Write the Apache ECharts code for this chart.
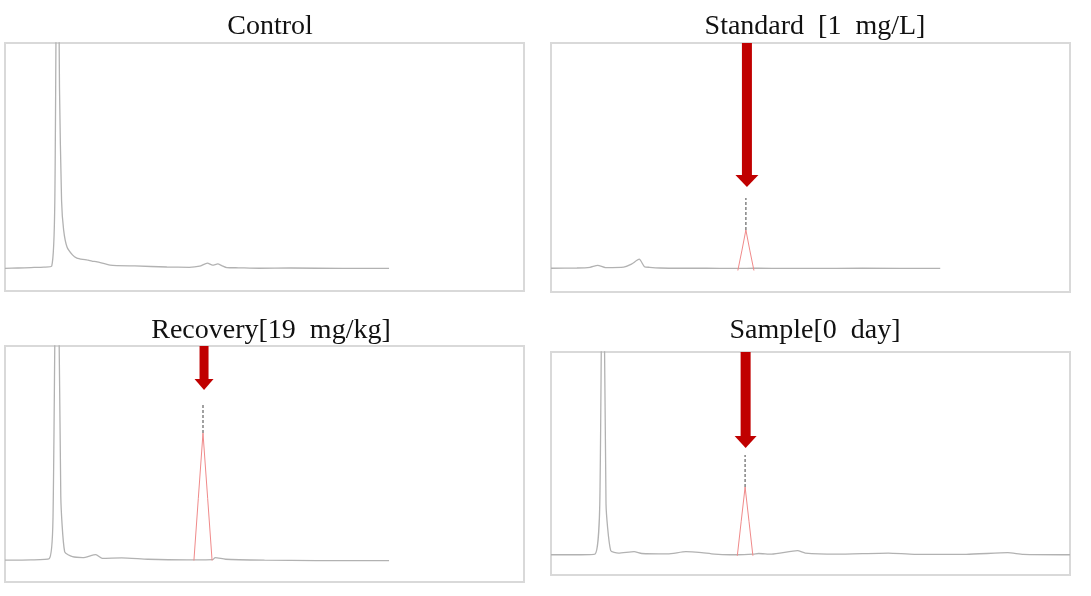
<!DOCTYPE html>
<html>
<head>
<meta charset="utf-8">
<script src="https://cdn.jsdelivr.net/npm/echarts@6/dist/echarts.min.js"></script>
<style>
html,body{margin:0;padding:0;background:#fff;}
#chart{width:1091px;height:596px;}
</style>
</head>
<body>
<div id="chart"></div>
<script>
// ---- Panel titles ----
const panelTitles = ['Control', 'Standard  [1  mg/L]', 'Recovery[19  mg/kg]', 'Sample[0  day]'];

// ---- Control trace (time, response) ----
const controlT = [0, 0.5, 1.0, 1.5, 1.8, 1.92, 2.02, 2.1, 2.18, 2.26, 2.39, 2.6, 2.77, 3.0, 3.16, 3.35, 3.55, 4.05, 5.0, 6.24, 7.1, 7.5, 7.8, 8.0, 8.2, 8.35, 8.55, 9.0, 9.8, 11.0, 13.0, 14.8];
const controlV = [0, 0.2, 0.4, 0.6, 1.0, 30, 200, 80, 30, 17, 9.5, 6, 4.6, 4.0, 3.8, 3.3, 2.9, 1.5, 1.1, 0.65, 0.5, 1.0, 2.4, 1.5, 2.0, 1.3, 0.4, 0.3, 0.1, 0.2, 0, 0];

// ---- Standard trace ----
const standardT = [0, 1.0, 1.5, 1.8, 2.1, 2.8, 3.1, 3.4, 3.6, 3.8, 4.2, 5.0, 6.0, 7.0, 7.2, 7.85, 8.0, 9.0, 10.0, 12.0, 15.0];
const standardV = [0.5, 0.6, 0.9, 1.8, 0.8, 1.0, 2.3, 4.5, 1.2, 0.9, 0.6, 0.5, 0.5, 0.4, 0.4, 0.5, 0.5, 0.4, 0.4, 0.5, 0.4];
const standardPeakT = [7.2, 7.36, 7.51, 7.66, 7.82];
const standardPeakV = [-0.5, 8.5, 17.4, 8.5, -0.5];
const standardTipV = [17.4, 31.5];
const standardArrow = [7.55, 100, 36.4];

// ---- Recovery trace ----
const recoveryT = [0, 1.0, 1.7, 1.85, 2.0, 2.15, 2.3, 2.6, 3.0, 3.5, 3.75, 4.5, 5.5, 7.0, 7.25, 8.0, 8.1, 8.5, 10.0, 12.0, 14.8];
const recoveryV = [0.2, 0.3, 0.8, 20, 200, 30, 4, 1.8, 1.4, 2.8, 1.0, 1.2, 0.6, 0.3, 0.3, 0.4, 1.4, 0.6, 0.2, 0, 0];
const recoveryPeakT = [7.28, 7.45, 7.63, 7.81, 7.98];
const recoveryPeakV = [0, 29, 59.4, 29, 0];
const recoveryTipV = [59.4, 73.4];
const recoveryArrow = [7.67, 100, 79.5];

// ---- Sample trace ----
const sampleT = [0, 1.0, 1.7, 1.88, 2.0, 2.12, 2.3, 2.6, 3.2, 3.5, 4.5, 5.2, 5.7, 6.3, 6.9, 7.18, 7.8, 8.0, 8.5, 9.5, 9.8, 11.0, 13.0, 14.0, 16.0, 17.6, 18.2, 20.0];
const sampleV = [0, 0, 0.4, 25, 200, 25, 2, 0.8, 1.5, 0.6, 0.4, 1.5, 1.2, 0.3, 0, 0, 0.3, 0.6, 0.3, 2.0, 0.8, 0.3, 0.8, 0.2, 0.2, 1.0, 0.2, 0];
const samplePeakT = [7.18, 7.33, 7.48, 7.63, 7.78];
const samplePeakV = [-0.5, 16.5, 33.4, 16.5, -0.5];
const sampleTipV = [33.4, 49.2];
const sampleArrow = [7.5, 100, 52.6];

const zip = (a, b) => a.map((x, i) => [x, b[i]]);

const grids = [
  {left: 5, top: 43, width: 519, height: 248},
  {left: 551, top: 43, width: 519, height: 249},
  {left: 5, top: 346, width: 519, height: 236},
  {left: 551, top: 352, width: 519, height: 223}
];
const titlePos = [[265, 8], [810, 8], [266, 312], [810, 312]];

const panels = [
  {trace: zip(controlT, controlV)},
  {trace: zip(standardT, standardV), peak: zip(standardPeakT, standardPeakV), tipT: standardPeakT[2], tipV: standardTipV, arrow: standardArrow, shaft: 10, head: [23, 12]},
  {trace: zip(recoveryT, recoveryV), peak: zip(recoveryPeakT, recoveryPeakV), tipT: recoveryPeakT[2], tipV: recoveryTipV, arrow: recoveryArrow, shaft: 9, head: [19, 11]},
  {trace: zip(sampleT, sampleV), peak: zip(samplePeakT, samplePeakV), tipT: samplePeakT[2], tipV: sampleTipV, arrow: sampleArrow, shaft: 10, head: [22, 12]}
];

const option = {
  animation: false,
  backgroundColor: '#ffffff',
  title: panelTitles.map((t, i) => ({
    text: t,
    left: titlePos[i][0],
    top: titlePos[i][1],
    textAlign: 'center',
    textStyle: {fontFamily: 'Liberation Serif', fontWeight: 'normal', fontSize: 28, color: '#111'}
  })),
  grid: grids.map(g => Object.assign({show: true, borderColor: '#d9d9d9', borderWidth: 2, backgroundColor: '#fff'}, g)),
  xAxis: grids.map((g, i) => ({type: 'value', gridIndex: i, min: 0, max: 20, show: false})),
  yAxis: grids.map((g, i) => ({type: 'value', gridIndex: i, min: -10, max: 100, show: false})),
  series: []
};

panels.forEach((p, i) => {
  option.series.push({
    type: 'line', xAxisIndex: i, yAxisIndex: i, data: p.trace,
    showSymbol: false, clip: true, smooth: 0.2,
    lineStyle: {color: '#b2b2b2', width: 1.3}
  });
  if (p.peak) {
    option.series.push({
      type: 'line', xAxisIndex: i, yAxisIndex: i, data: p.peak,
      showSymbol: false, lineStyle: {color: '#f08a8a', width: 1}
    });
    option.series.push({
      type: 'line', xAxisIndex: i, yAxisIndex: i,
      data: [[p.tipT, p.tipV[0]], [p.tipT, p.tipV[1]]],
      showSymbol: false, lineStyle: {color: '#7a7a7a', width: 1.4, type: [3, 2]}
    });
    const shaft = p.shaft, head = p.head;
    option.series.push({
      type: 'custom', xAxisIndex: i, yAxisIndex: i,
      data: [p.arrow],
      renderItem: function (params, api) {
        const top = api.coord([api.value(0), api.value(1)]);
        const tip = api.coord([api.value(0), api.value(2)]);
        const x = top[0];
        const headTop = tip[1] - head[1];
        return {
          type: 'group',
          children: [
            {type: 'rect', shape: {x: x - shaft / 2, y: top[1], width: shaft, height: headTop - top[1] + 1}, style: {fill: '#c00000'}},
            {type: 'polygon', shape: {points: [[x - head[0] / 2, headTop], [x + head[0] / 2, headTop], [x, tip[1]]]}, style: {fill: '#c00000'}}
          ]
        };
      }
    });
  }
});

const chart = echarts.init(document.getElementById('chart'), null, {renderer: 'canvas'});
chart.setOption(option);
</script>
</body>
</html>
